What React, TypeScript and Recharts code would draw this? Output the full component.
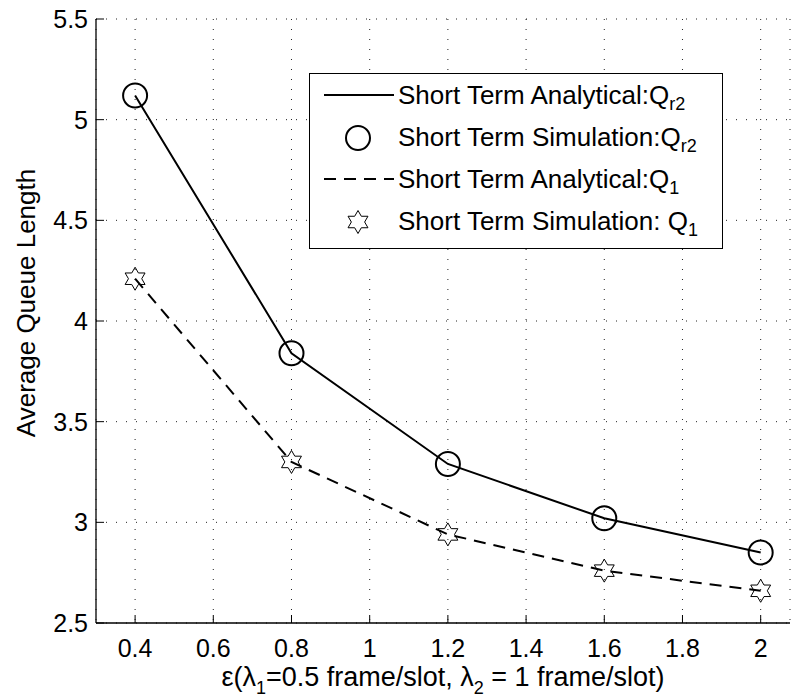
import { LineChart, Line, XAxis, YAxis, CartesianGrid, Legend } from 'recharts'

const epsilon = [0.4, 0.8, 1.2, 1.6, 2.0]
const qr2Analytical = [5.12, 3.84, 3.29, 3.02, 2.85]
const qr2Simulation = [5.12, 3.84, 3.29, 3.02, 2.85]
const q1Analytical = [4.21, 3.3, 2.94, 2.76, 2.66]
const q1Simulation = [4.21, 3.3, 2.94, 2.76, 2.66]
const xTicks = [0.4, 0.6, 0.8, 1, 1.2, 1.4, 1.6, 1.8, 2]
const yTicks = [2.5, 3, 3.5, 4, 4.5, 5, 5.5]
const xDomain = [0.3, 2.075]
const yDomain = [2.5, 5.5]

const data = epsilon.map((e, i) => ({
  e,
  qr2a: qr2Analytical[i],
  qr2s: qr2Simulation[i],
  q1a: q1Analytical[i],
  q1s: q1Simulation[i],
}))

const FONT = '"Liberation Sans", Arial, Helvetica, sans-serif'
const FS = 25
const LABEL_FS = 27
const LEGEND_FS = 26
const DASH = '12 8'

// hexagram outline, point up (matlab 'h' marker)
const starPath = (cx: number, cy: number, r: number) => {
  const pts: string[] = []
  for (let i = 0; i < 12; i++) {
    const a = ((-90 + i * 30) * Math.PI) / 180
    const rr = i % 2 === 0 ? r : r / Math.sqrt(3)
    pts.push(`${(cx + rr * Math.cos(a)).toFixed(2)},${(cy + rr * Math.sin(a)).toFixed(2)}`)
  }
  return 'M' + pts.join('L') + 'Z'
}

const CircleDot = (p: any) => {
  if (p.cx == null || p.cy == null) return <g key={`c${p.index}`} />
  return <circle key={`c${p.index}`} cx={p.cx} cy={p.cy} r={12} fill="none" stroke="#000" strokeWidth={2} />
}

const StarDot = (p: any) => {
  if (p.cx == null || p.cy == null) return <g key={`s${p.index}`} />
  return <path key={`s${p.index}`} d={starPath(p.cx, p.cy, 11.5)} fill="none" stroke="#000" strokeWidth={1} />
}

const BottomTick = ({ x, y, payload }: any) => (
  <g>
    <line x1={x} y1={y} x2={x} y2={y - 8} stroke="#000" />
    <text x={x} y={y + 34} textAnchor="middle" fontSize={FS} fontFamily={FONT} fill="#000">
      {String(payload.value)}
    </text>
  </g>
)

const TopTick = ({ x, y }: any) => <line x1={x} y1={y} x2={x} y2={y + 8} stroke="#000" />

const LeftTick = ({ x, y, payload }: any) => (
  <g>
    <line x1={x} y1={y} x2={x + 8} y2={y} stroke="#000" />
    <text x={x - 8} y={y + 9} textAnchor="end" fontSize={FS} fontFamily={FONT} fill="#000">
      {String(payload.value)}
    </text>
  </g>
)

const RightTick = ({ x, y }: any) => <line x1={x} y1={y} x2={x - 8} y2={y} stroke="#000" />

const XTitle = (props: any) => {
  const vb = props.viewBox
  const sub = 18
  return (
    <text x={vb.x + vb.width / 2} y={vb.y + 63} textAnchor="middle" fontSize={LABEL_FS} fontFamily={FONT} fill="#000">
      ε(λ
      <tspan fontSize={sub} dy={8}>1</tspan>
      <tspan dy={-8}>=0.5 frame/slot, λ</tspan>
      <tspan fontSize={sub} dy={8}>2</tspan>
      <tspan dy={-8}> = 1 frame/slot)</tspan>
    </text>
  )
}

const YTitle = () => {
  const cx = 26
  const cy = 303
  return (
    <text
      x={cx}
      y={cy}
      transform={`rotate(-90 ${cx} ${cy})`}
      textAnchor="middle"
      dominantBaseline="central"
      fontSize={LABEL_FS - 1}
      fontFamily={FONT}
      fill="#000"
    >
      Average Queue Length
    </text>
  )
}

const legendItems = [
  { kind: 'solid', label: 'Short Term Analytical:Q', sub: 'r2' },
  { kind: 'circle', label: 'Short Term Simulation:Q', sub: 'r2' },
  { kind: 'dashed', label: 'Short Term Analytical:Q', sub: '1' },
  { kind: 'star', label: 'Short Term Simulation: Q', sub: '1' },
]

const LegendBox = () => (
  <div
    style={{
      border: '1.3px solid #000',
      background: '#fff',
      width: 414,
      padding: '0 0 6px 0',
      fontFamily: FONT,
      fontSize: LEGEND_FS,
      color: '#000',
      boxSizing: 'border-box',
    }}
  >
    {legendItems.map((it) => (
      <div key={it.label + it.sub} style={{ display: 'flex', alignItems: 'center', height: 42 }}>
        <svg width={88} height={42} style={{ flex: 'none' }}>
          {it.kind === 'solid' && <line x1={14} y1={21} x2={84} y2={21} stroke="#000" strokeWidth={2} />}
          {it.kind === 'dashed' && (
            <line x1={14} y1={21} x2={84} y2={21} stroke="#000" strokeWidth={2} strokeDasharray={DASH} />
          )}
          {it.kind === 'circle' && <circle cx={48} cy={22} r={12} fill="none" stroke="#000" strokeWidth={2} />}
          {it.kind === 'star' && <path d={starPath(48, 22, 11.5)} fill="none" stroke="#000" strokeWidth={1} />}
        </svg>
        <span style={{ whiteSpace: 'nowrap', lineHeight: '42px' }}>
          {it.label}
          <sub style={{ fontSize: 18, verticalAlign: 'sub', lineHeight: 0 }}>{it.sub}</sub>
        </span>
      </div>
    ))}
  </div>
)

export default function App() {
  return (
    <div style={{ position: 'absolute', left: 0, top: 0, width: 793, height: 698, background: '#fff' }}>
      <LineChart width={793} height={698} data={data} margin={{ top: 19, right: 3, bottom: 0, left: 0 }}>
        <CartesianGrid stroke="#222" strokeDasharray="1 9" />
        <XAxis
          dataKey="e"
          type="number"
          domain={xDomain}
          ticks={xTicks}
          allowDataOverflow
          height={75}
          tickSize={0}
          tickMargin={0}
          tickLine={false}
          tick={<BottomTick />}
          axisLine={{ stroke: '#000', strokeWidth: 1.3 }}
          label={XTitle}
        />
        <XAxis
          xAxisId="top"
          orientation="top"
          dataKey="e"
          type="number"
          domain={xDomain}
          ticks={xTicks}
          allowDataOverflow
          height={0}
          tickSize={0}
          tickMargin={0}
          tickLine={false}
          tick={<TopTick />}
          axisLine={{ stroke: '#000', strokeWidth: 1.3 }}
        />
        <YAxis
          type="number"
          domain={yDomain}
          ticks={yTicks}
          allowDataOverflow
          width={96}
          tickSize={0}
          tickMargin={0}
          tickLine={false}
          tick={<LeftTick />}
          axisLine={{ stroke: '#000', strokeWidth: 1.3 }}
          label={YTitle}
        />
        <YAxis
          yAxisId="right"
          orientation="right"
          type="number"
          domain={yDomain}
          ticks={yTicks}
          allowDataOverflow
          width={0}
          tickSize={0}
          tickMargin={0}
          tickLine={false}
          tick={<RightTick />}
          axisLine={{ stroke: '#000', strokeWidth: 1.3 }}
        />
        <Legend
          layout="vertical"
          verticalAlign="middle"
          align="center"
          content={LegendBox}
          wrapperStyle={{ position: 'absolute', left: 309, top: 73, width: 414, height: 'auto' }}
        />
        <Line dataKey="qr2a" stroke="#000" strokeWidth={2} dot={false} activeDot={false} isAnimationActive={false} />
        <Line dataKey="qr2s" stroke="none" dot={CircleDot} activeDot={false} isAnimationActive={false} />
        <Line
          dataKey="q1a"
          stroke="#000"
          strokeWidth={2}
          strokeDasharray={DASH}
          dot={false}
          activeDot={false}
          isAnimationActive={false}
        />
        <Line dataKey="q1s" stroke="none" dot={StarDot} activeDot={false} isAnimationActive={false} />
      </LineChart>
    </div>
  )
}
